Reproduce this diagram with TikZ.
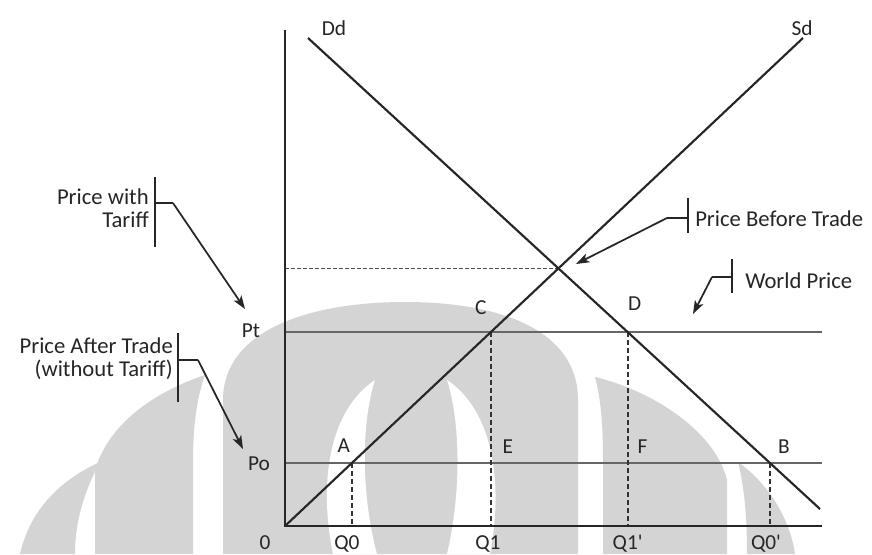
\documentclass[tikz,border=0pt]{standalone}
\usepackage{fontspec}
\setmainfont{Carlito}
\usetikzlibrary{arrows.meta,calc}
\begin{document}
\begin{tikzpicture}[x=0.75pt,y=-0.75pt,
  axis/.style={line width=2pt, black!85},
  curve/.style={line width=1.6pt, black!85},
  world/.style={line width=2pt, black!60},
  guide/.style={line width=1.4pt, black!80, dash pattern=on 4pt off 2pt},
  fineguide/.style={line width=1pt, black!70, dash pattern=on 3pt off 1.5pt},
  lbl/.style={font=\fontsize{16}{18}\selectfont, text=black!85, inner sep=0pt},
  note/.style={font=\fontsize{17}{17}\selectfont, text=black!85, inner sep=0pt, align=right},
  bar/.style={line width=1.1pt, black!85},
  pointer/.style={line width=1.3pt, black!85, -{Stealth[length=10pt,width=7pt,inset=2.5pt]}},
  wm/.style={fill=black!17, draw=none},
  wmcut/.style={fill=white, draw=none}
]
\fill[white] (0,0) rectangle (872,554);
\useasboundingbox (0,0) rectangle (872,554);

% ---- watermark ----
\fill[wm] (223,554) -- (223,400) .. controls (223,330) and (310,302) .. (405,302)
  .. controls (500,302) and (578,330) .. (578,400) -- (578,554) -- cycle;
\fill[wmcut] (375,380) .. controls (330,410) and (318,480) .. (333,554) -- (377,554)
  .. controls (360,490) and (362,420) .. (375,380) -- cycle;
\fill[wmcut] (447,380) .. controls (492,410) and (504,480) .. (490,554) -- (447,554)
  .. controls (462,490) and (460,420) .. (447,380) -- cycle;
\fill[wm] (95,554) -- (95,470) .. controls (110,420) and (160,390) .. (205,375)
  .. controls (196,400) and (193,430) .. (193,460) -- (193,554) -- cycle;
\fill[wm] (603,554) -- (603,460) .. controls (603,420) and (600,395) .. (595,377)
  .. controls (650,390) and (715,430) .. (727,480) -- (727,554) -- cycle;
\fill[wm] (20,554) .. controls (30,510) and (60,480) .. (100,462)
  .. controls (85,490) and (75,520) .. (75,554) -- cycle;
\fill[wm] (747,554) .. controls (747,520) and (745,490) .. (738,462)
  .. controls (770,485) and (790,520) .. (795,554) -- cycle;

% ---- key points ----
\coordinate (O) at (285,526);
\coordinate (Ytop) at (285,30);
\coordinate (Xend) at (822,526);
\coordinate (Stop) at (803,38);
\coordinate (Dtop) at (308,38);
\coordinate (Dend) at (820,509);
\coordinate (PtL) at (285,332);
\coordinate (PtR) at (822,332);
\coordinate (PoL) at (285,463);
\coordinate (PoR) at (822,463);
\coordinate (A) at (intersection of O--Stop and PoL--PoR);
\coordinate (C) at (intersection of O--Stop and PtL--PtR);
\coordinate (D) at (intersection of Dtop--Dend and PtL--PtR);
\coordinate (B) at (intersection of Dtop--Dend and PoL--PoR);
\coordinate (Eq) at (intersection of O--Stop and Dtop--Dend);
\coordinate (EqL) at (O |- Eq);
\coordinate (QA) at (A |- O);
\coordinate (QC) at (C |- O);
\coordinate (QD) at (D |- O);
\coordinate (QB) at (B |- O);

% ---- world price lines ----
\draw[world] (PtL) -- (PtR);
\draw[world] (PoL) -- (PoR);

% ---- guides ----
\draw[fineguide] (EqL) -- (Eq);
\draw[guide] (A) -- (QA);
\draw[guide] (C) -- (QC);
\draw[guide] (D) -- (QD);
\draw[guide] (B) -- (QB);

% ---- curves ----
\draw[curve] (O) -- (Stop);
\draw[curve] (Dtop) -- (Dend);

% ---- axes ----
\draw[axis] (Ytop) -- (O) -- (Xend);

% ---- labels ----
\node[lbl, anchor=base] (lDd) at (334,35) {Dd};
\node[lbl, anchor=base] (lSd) at (802,35) {Sd};
\node[lbl, anchor=base] (lPt) at (251,337) {Pt};
\node[lbl, anchor=base] (lPo) at (259,470) {Po};
\node[lbl, anchor=base] (l0) at (265,549) {0};
\node[lbl, anchor=base] (lQ0) at ($(QA)+(-5,23)$) {Q0};
\node[lbl, anchor=base] (lQ1) at ($(QC)+(-3,23)$) {Q1};
\node[lbl, anchor=base] (lQ1p) at ($(QD)+(0,23)$) {Q1\textquotesingle};
\node[lbl, anchor=base] (lQ0p) at ($(QB)+(-4,23)$) {Q0\textquotesingle};
\node[lbl, anchor=base] (lA) at ($(A)+(-8,-10)$) {A};
\node[lbl, anchor=base] (lC) at ($(C)+(-10,-17)$) {C};
\node[lbl, anchor=base] (lE) at ($(QC |- PoL)+(17,-10)$) {E};
\node[lbl, anchor=base] (lF) at ($(QD |- PoL)+(15,-10)$) {F};
\node[lbl, anchor=base] (lB) at ($(B)+(14,-10)$) {B};
\node[lbl, anchor=base] (lD) at ($(D)+(7,-22)$) {D};

% ---- annotations ----
\node[note, anchor=east] (nTariff) at (149,208) {Price with\\Tariff};
\coordinate (bT1) at (155,177);
\coordinate (bT2) at (155,247);
\coordinate (bTm) at (155,203);
\coordinate (bTk) at (173,203);
\coordinate (bTa) at (245,309);
\draw[bar] (bT1) -- (bT2);
\draw[bar] (bTm) -- (bTk);
\draw[pointer] (bTk) -- (bTa);

\node[note, anchor=east] (nAfter) at (173,359) {Price After Trade\\(without Tariff)};
\coordinate (bA1) at (178,333);
\coordinate (bA2) at (178,402);
\coordinate (bAm) at (178,360);
\coordinate (bAk) at (198,360);
\coordinate (bAa) at (243,449);
\draw[bar] (bA1) -- (bA2);
\draw[bar] (bAm) -- (bAk);
\draw[pointer] (bAk) -- (bAa);

\node[note, anchor=west] (nBefore) at (695,219) {Price Before Trade};
\coordinate (bB1) at (688,198);
\coordinate (bB2) at (688,233);
\coordinate (bBm) at (688,218);
\coordinate (bBk) at (667,218);
\coordinate (bBa) at (576,264);
\draw[bar] (bB1) -- (bB2);
\draw[bar] (bBm) -- (bBk);
\draw[pointer] (bBk) -- (bBa);

\node[note, anchor=west] (nWorld) at (745,281) {World Price};
\coordinate (bW1) at (732,259);
\coordinate (bW2) at (732,293);
\coordinate (bWm) at (732,277);
\coordinate (bWk) at (712,277);
\coordinate (bWa) at (693,314);
\draw[bar] (bW1) -- (bW2);
\draw[bar] (bWm) -- (bWk);
\draw[pointer] (bWk) -- (bWa);
\end{tikzpicture}
\end{document}
